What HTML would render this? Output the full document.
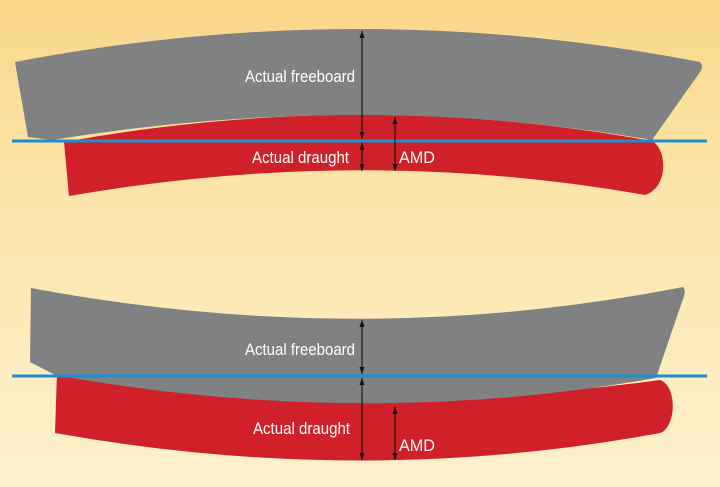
<!DOCTYPE html>
<html><head><style>
html,body{margin:0;padding:0;}
body{width:720px;height:487px;overflow:hidden;background:linear-gradient(180deg,#fad78a 0%,#fce6ad 45%,#fdf1cd 100%);}
svg{display:block}
text{font-family:"Liberation Sans",sans-serif;font-size:17px;fill:#fff;}
</style></head><body>
<svg width="720" height="487" viewBox="0 0 720 487">
<!-- top figure -->
<path d="M64,142 Q362,88 652,141 C668,150 668,188 645,195 Q362,145 69,196 Z" fill="#d0202a"/>
<path d="M15,62 Q360,-4 700,62 Q704,66 700,72 L652,140 Q362,90 52,140 L28,137 Z" fill="#808183"/>
<line x1="12" y1="141" x2="707" y2="141" stroke="#1b8fcf" stroke-width="3"/>
<g stroke="#111" stroke-width="1.1" fill="#111">
<line x1="362" y1="31" x2="362" y2="139"/>
<polygon points="362,31 359.5,38 364.5,38" stroke="none"/>
<polygon points="362,139 359.5,132 364.5,132" stroke="none"/>
<line x1="362" y1="143" x2="362" y2="171"/>
<polygon points="362,143 359.5,150 364.5,150" stroke="none"/>
<polygon points="362,171 359.5,164 364.5,164" stroke="none"/>
<line x1="395" y1="117" x2="395" y2="171"/>
<polygon points="395,117 392.5,124 397.5,124" stroke="none"/>
<polygon points="395,171 392.5,164 397.5,164" stroke="none"/>
</g>
<text x="245" y="82" textLength="110" lengthAdjust="spacingAndGlyphs">Actual freeboard</text>
<text x="252" y="163" textLength="97" lengthAdjust="spacingAndGlyphs">Actual draught</text>
<text x="399" y="163" textLength="36" lengthAdjust="spacingAndGlyphs">AMD</text>
<!-- bottom figure -->
<path d="M57,372 Q362,420 660,380 C678,386 676,428 660,433 Q362,488 55,433 Z" fill="#d0202a"/>
<path d="M31,288 Q362,350 683,287 Q686,290 684,296 L656,378 Q362,430 55,375 L30,362 Z" fill="#808183"/>
<line x1="12" y1="376" x2="707" y2="376" stroke="#1b8fcf" stroke-width="3"/>
<g stroke="#111" stroke-width="1.1" fill="#111">
<line x1="362" y1="320" x2="362" y2="374"/>
<polygon points="362,320 359.5,327 364.5,327" stroke="none"/>
<polygon points="362,374 359.5,367 364.5,367" stroke="none"/>
<line x1="362" y1="378" x2="362" y2="460"/>
<polygon points="362,378 359.5,385 364.5,385" stroke="none"/>
<polygon points="362,460 359.5,453 364.5,453" stroke="none"/>
<line x1="395" y1="407" x2="395" y2="460"/>
<polygon points="395,407 392.5,414 397.5,414" stroke="none"/>
<polygon points="395,460 392.5,453 397.5,453" stroke="none"/>
</g>
<text x="245" y="355" textLength="110" lengthAdjust="spacingAndGlyphs">Actual freeboard</text>
<text x="253" y="434" textLength="97" lengthAdjust="spacingAndGlyphs">Actual draught</text>
<text x="399" y="451" textLength="36" lengthAdjust="spacingAndGlyphs">AMD</text>
</svg>
</body></html>
